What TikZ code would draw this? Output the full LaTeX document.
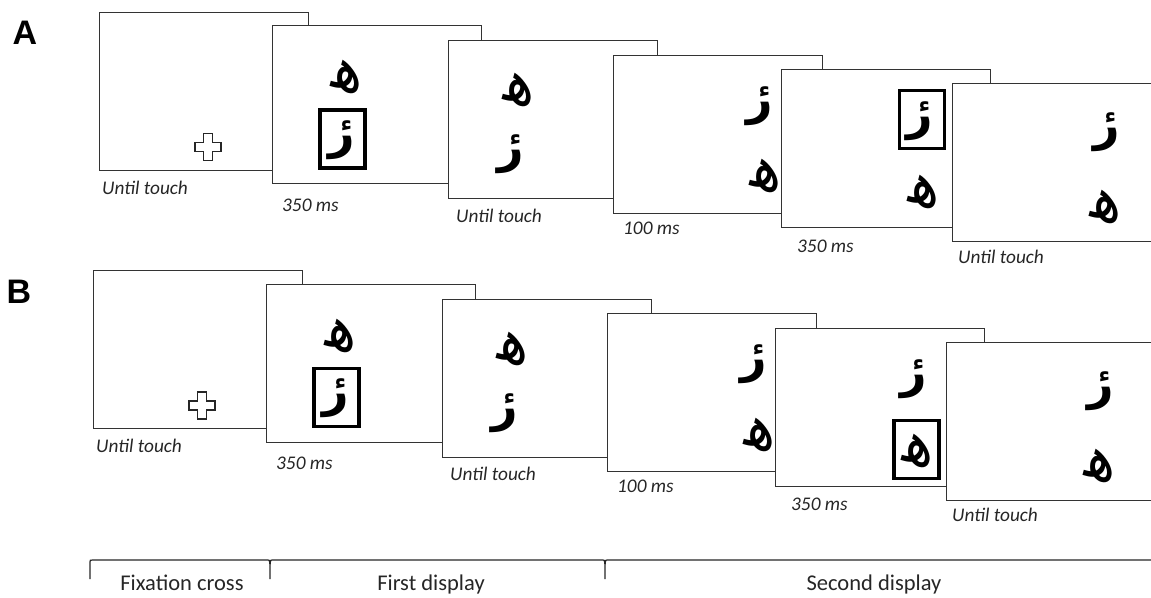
\documentclass[tikz,border=0pt]{standalone}
\usepackage{fontspec}
\setmainfont{Carlito}
\newfontfamily\panelfont{Liberation Sans}
\newfontfamily\arabicfont[Script=Arabic]{DejaVu Sans}
\TeXXeTstate=1
\newcommand\glyphHeh{\arabicfont\beginR ﻫ\endR}
\newcommand\glyphRa{\arabicfont\bfseries\beginR رٔ\endR}

\begin{document}
\begin{tikzpicture}[x=1pt,y=-1pt,
  screen/.style={draw=black!80, line width=1.3pt, fill=white,
    minimum width=208.5pt, minimum height=158pt, anchor=north west, inner sep=0pt},
  cue/.style={draw=black, line width=3.5pt, fill=none,
    minimum width=45pt, minimum height=58pt, inner sep=0pt},
  glyph/.style={font=\fontsize{46}{46}\selectfont, inner sep=0pt},
  hglyph/.style={font=\fontsize{59}{59}\selectfont, inner sep=0pt, rotate=-15,
    xshift=6pt, yshift=-3pt},
  timing/.style={anchor=base west, font=\fontsize{19.3}{20}\selectfont\itshape,
    inner sep=0pt, text=black!85},
  phase/.style={anchor=base, font=\fontsize{22.5}{24}\selectfont, inner sep=0pt, text=black!85},
  panel/.style={font=\fontsize{34}{34}\selectfont\panelfont\bfseries, inner sep=0pt},
  fixcross/.style={draw=black!85, line width=1.2pt, fill=white},
  timeline/.style={draw=black!85, line width=1.2pt}
]
\useasboundingbox (0,0) rectangle (1151,597);

% ---------- Panel A ----------
\node[panel] (labA) at (25,32.5) {A};

\node[screen] (a1) at (99,11.5) {};
\coordinate (a1c) at (208,147);
\draw[fixcross, shift={(a1c)}] (-4.5,-13.5) -- (4.5,-13.5) -- (4.5,-4.5) -- (13,-4.5) -- (13,4.5)
  -- (4.5,4.5) -- (4.5,13.5) -- (-4.5,13.5) -- (-4.5,4.5) -- (-13,4.5) -- (-13,-4.5) -- (-4.5,-4.5) -- cycle;
\node[timing] (ta1) at (102,194) {Until touch};

\node[screen] (a2) at (272,25) {};
\node[hglyph] (a2h) at (344,73.5) {\glyphHeh};
\node[glyph] (a2r) at (342,140) {\glyphRa};
\node[cue] (a2b) at (342.5,139) {};
\node[timing] (ta2) at (282,211) {350 ms};

\node[screen] (a3) at (448,40) {};
\node[hglyph] (a3h) at (516,86.5) {\glyphHeh};
\node[glyph] (a3r) at (511,154.5) {\glyphRa};
\node[timing] (ta3) at (456,222) {Until touch};

\node[screen] (a4) at (613,54.5) {};
\node[glyph] (a4r) at (760,106) {\glyphRa};
\node[hglyph] (a4h) at (763,172.5) {\glyphHeh};
\node[timing] (ta4) at (623,234) {100 ms};

\node[screen] (a5) at (781,69) {};
\node[glyph] (a5r) at (920,121) {\glyphRa};
\node[cue] (a5b) at (922,119.5) {};
\node[hglyph] (a5h) at (921,188) {\glyphHeh};
\node[timing] (ta5) at (797,252) {350 ms};

\node[screen] (a6) at (952,83) {};
\node[glyph] (a6r) at (1106.5,132.5) {\glyphRa};
\node[hglyph] (a6h) at (1103,203.5) {\glyphHeh};
\node[timing] (ta6) at (958,263) {Until touch};

% ---------- Panel B ----------
\node[panel] (labB) at (19,292) {B};

\node[screen] (b1) at (93,270) {};
\coordinate (b1c) at (202,405.5);
\draw[fixcross, shift={(b1c)}] (-4.5,-13.5) -- (4.5,-13.5) -- (4.5,-4.5) -- (13,-4.5) -- (13,4.5)
  -- (4.5,4.5) -- (4.5,13.5) -- (-4.5,13.5) -- (-4.5,4.5) -- (-13,4.5) -- (-13,-4.5) -- (-4.5,-4.5) -- cycle;
\node[timing] (tb1) at (96,452.5) {Until touch};

\node[screen] (b2) at (266,283.5) {};
\node[hglyph] (b2h) at (338,332) {\glyphHeh};
\node[glyph] (b2r) at (336,398.5) {\glyphRa};
\node[cue] (b2b) at (336.5,397.5) {};
\node[timing] (tb2) at (276,469.5) {350 ms};

\node[screen] (b3) at (442,298.5) {};
\node[hglyph] (b3h) at (510,345) {\glyphHeh};
\node[glyph] (b3r) at (505,413) {\glyphRa};
\node[timing] (tb3) at (450,480.5) {Until touch};

\node[screen] (b4) at (607,313) {};
\node[glyph] (b4r) at (754,364.5) {\glyphRa};
\node[hglyph] (b4h) at (757,431) {\glyphHeh};
\node[timing] (tb4) at (617,492.5) {100 ms};

\node[screen] (b5) at (775,327.5) {};
\node[glyph] (b5r) at (914,379.5) {\glyphRa};
\node[hglyph] (b5h) at (915,447) {\glyphHeh};
\node[cue] (b5b) at (916.5,449.5) {};
\node[timing] (tb5) at (791,510.5) {350 ms};

\node[screen] (b6) at (946,341.5) {};
\node[glyph] (b6r) at (1100.5,391) {\glyphRa};
\node[hglyph] (b6h) at (1097,462) {\glyphHeh};
\node[timing] (tb6) at (952,521.5) {Until touch};

% ---------- Time line ----------
\coordinate (t0) at (90,560);
\coordinate (t1) at (270,560);
\coordinate (t2) at (605,560);
\coordinate (t3) at (1160,560);
\draw[timeline] ([yshift=-19pt]t0) -- ([yshift=-2pt]t0) .. controls (t0) .. ([xshift=3pt]t0)
  -- ([xshift=-2pt]t1) .. controls (t1) .. ([yshift=-19pt]t1)
  .. controls (t1) .. ([xshift=2pt]t1)
  -- ([xshift=-2pt]t2) .. controls (t2) .. ([yshift=-19pt]t2)
  .. controls (t2) .. ([xshift=2pt]t2) -- (t3);

\node[phase] (p1) at (182,590) {Fixation cross};
\node[phase] (p2) at (431,590) {First display};
\node[phase] (p3) at (874,590) {Second display};
\end{tikzpicture}
\end{document}
